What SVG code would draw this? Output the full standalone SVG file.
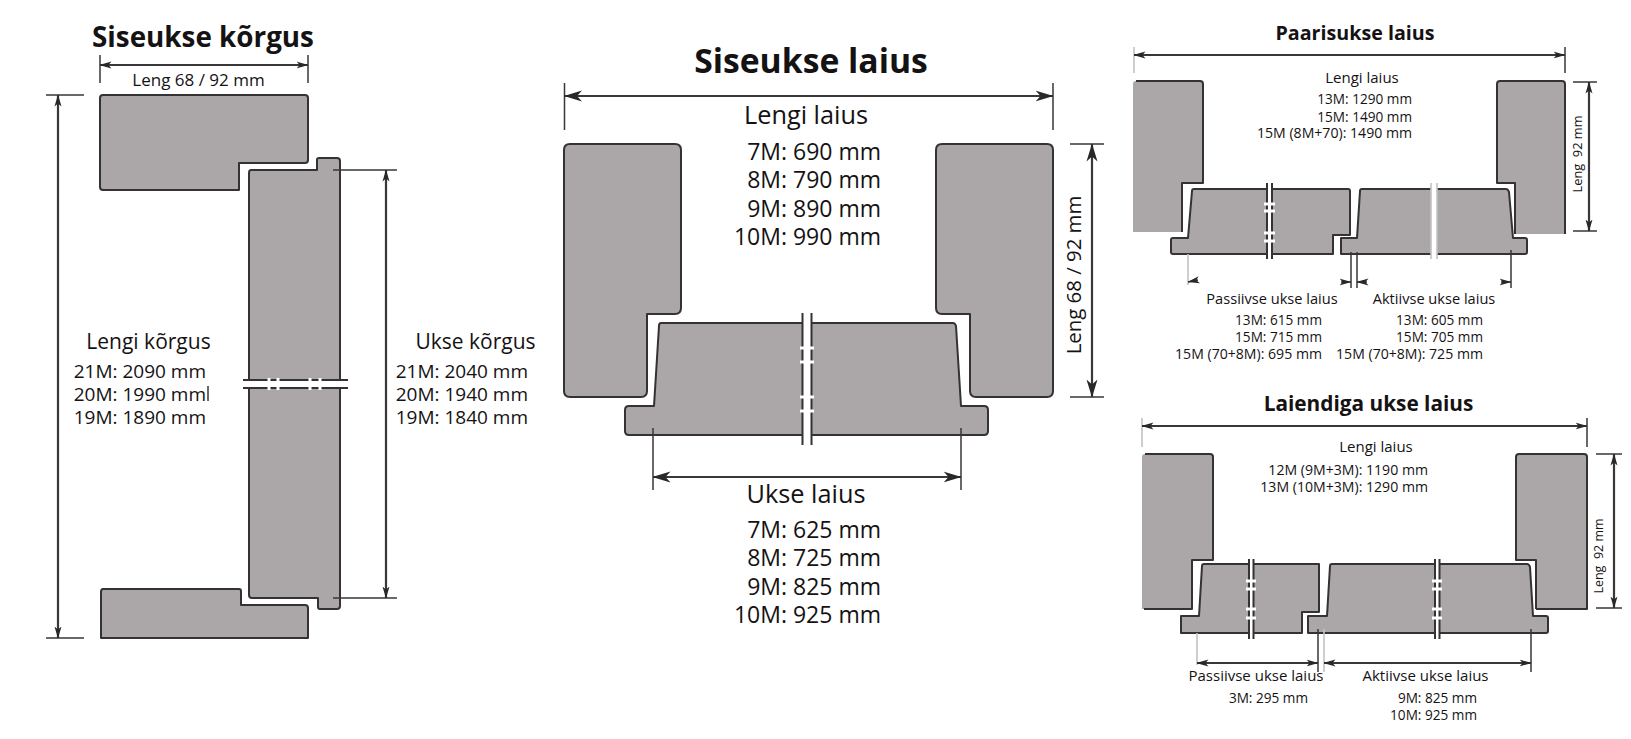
<svg xmlns="http://www.w3.org/2000/svg" width="1631" height="739" viewBox="0 0 1631 739">
<style>
text{font-family:"Open Sans","Noto Sans","Liberation Sans",sans-serif;fill:#151213}
.t{font-weight:700}
.p{fill:#aba6a8;stroke:#353233;stroke-width:2;stroke-linejoin:round}
.f{fill:#aba6a8;stroke:none}
.o{fill:none;stroke:#353233;stroke-width:2;stroke-linejoin:round}
.d{fill:none;stroke:#3a3738;stroke-width:2.2}
.e{fill:none;stroke:#3a3738;stroke-width:1.5}
.g{fill:none;stroke:#c4c2c3;stroke-width:1.6}
.bl{fill:none;stroke:#353233;stroke-width:2}
.w{fill:none;stroke:#fff;stroke-width:3}
.m{text-anchor:middle}
.r{text-anchor:end}
.a{font-size:19px}
.b{font-size:23px}
.c{font-size:13.6px}
.k{font-size:14.1px}
.l{font-size:14.6px}
.n{font-size:15px}
</style>
<defs>
<marker id="ab" viewBox="0 0 18 12" refX="17.5" refY="6" markerWidth="18" markerHeight="12" orient="auto-start-reverse" markerUnits="userSpaceOnUse"><path d="M0 0.5L18 6L0 11.5L5 6Z" fill="#2a2728"/></marker>
<marker id="as" viewBox="0 0 12 8" refX="11.5" refY="4" markerWidth="12" markerHeight="8" orient="auto-start-reverse" markerUnits="userSpaceOnUse"><path d="M0 0.5L12 4L0 7.5L3 4Z" fill="#2a2728"/></marker>
</defs>
<rect width="1631" height="739" fill="#fff"/>

<g id="korgus-top-jamb"><path class="p" d="M103 95H305Q308 95 308 98V160Q308 163 305 163H239V190H103Q100 190 100 187V98Q100 95 103 95Z"/></g>
<g id="korgus-door"><path class="p" d="M251 170H317V160Q317 158 319 158H337Q340 158 340 161V606Q340 609 337 609H320Q318 609 318 607V598H252Q249 598 249 595V173Q249 170 251 170Z"/>
<path class="w" style="stroke-width:8" d="M243 384H348"/><path class="bl" d="M243 380H348M243 388H348"/><path class="w" d="M269 378V390M278 378V390M310 378V390M320 378V390"/></g>
<g id="korgus-bottom-jamb"><path class="p" d="M103 589H239Q241 589 241 591V605H305Q308 605 308 608V638H101V592Q101 589 103 589Z"/></g>

<g id="laius-left-jamb"><path class="p" d="M570 144H675Q681 144 681 150V308Q681 314 675 314H647V391Q647 397 641 397H570Q564 397 564 391V150Q564 144 570 144Z"/></g>
<g id="laius-right-jamb"><path class="p" d="M942 144H1047Q1053 144 1053 150V391Q1053 397 1047 397H976Q970 397 970 391V314H942Q936 314 936 308V150Q936 144 942 144Z"/></g>
<g id="laius-door"><path class="p" d="M661 323H953Q955 323 956 326L961 406H984Q988 406 988 410V431Q988 435 984 435H629Q625 435 625 431V410Q625 406 629 406H654L659 326Q659 323 661 323Z"/>
<path class="w" style="stroke-width:8" d="M807 313V445"/><path class="bl" d="M802.500 313V445M811.500 313V445"/><path class="w" d="M800 348H814M800 362H814M800 397H814M800 411H814"/></g>

<g id="paaris-left-jamb"><path class="f" d="M1136 81H1203V183H1182V232H1133V84Q1133 81 1136 81Z"/><path class="o" d="M1136 81H1200Q1203 81 1203 84V183H1182V232"/></g>
<g id="paaris-right-jamb"><path class="f" d="M1500 81H1562Q1565 81 1565 84V234H1515V183H1497V84Q1497 81 1500 81Z"/><path class="o" d="M1515 234V183H1497V84Q1497 81 1500 81H1562Q1565 81 1565 84V234"/></g>
<g id="paaris-door-passive"><path class="p" d="M1194 189H1348Q1350 189 1350 191V235H1333V254H1173Q1171 254 1171 252V240Q1171 238 1173 238H1188L1192 191Q1192 189 1194 189Z"/>
<path class="w" style="stroke-width:5" d="M1269.500 183V259"/><path class="bl" d="M1267 183V259M1272 183V259"/><path class="w" d="M1264 204H1275M1264 211H1275M1264 233H1275M1264 241H1275"/></g>
<g id="paaris-door-active"><path class="p" d="M1362 189H1506Q1508 189 1509 192L1513 238H1525Q1527 238 1527 240V252Q1527 254 1525 254H1341V238H1357L1360 191Q1360 189 1362 189Z"/>
<path class="w" style="stroke-width:6" d="M1434 181V261"/><path class="g" d="M1431 183V259M1437 183V259"/></g>

<g id="laiendi-left-jamb"><path class="f" d="M1145 454H1213V560H1192V609H1142V457Q1142 454 1145 454Z"/><path class="o" d="M1145 454H1210Q1213 454 1213 457V560H1192V609H1144"/></g>
<g id="laiendi-right-jamb"><path class="f" d="M1519 454H1584Q1587 454 1587 457V609H1536V560H1516V457Q1516 454 1519 454Z"/><path class="o" d="M1536 609V560H1516V457Q1516 454 1519 454H1584Q1587 454 1587 457V609H1536"/></g>
<g id="laiendi-door-passive"><path class="p" d="M1204 564H1319V612H1302V633H1181V616H1199L1202 566Q1202 564 1204 564Z"/>
<path class="w" style="stroke-width:5" d="M1251 559V639"/><path class="bl" d="M1249 559V639M1253.500 559V639"/><path class="w" d="M1246 581H1256M1246 589H1256M1246 609H1256M1246 618H1256"/></g>
<g id="laiendi-door-active"><path class="p" d="M1332 564H1527Q1529 564 1530 567L1533 616H1546Q1548 616 1548 618V631Q1548 633 1546 633H1308V616H1327L1330 566Q1330 564 1332 564Z"/>
<path class="w" style="stroke-width:5" d="M1437 559V639"/><path class="bl" d="M1435 559V639M1439.500 559V639"/><path class="w" d="M1432 581H1442M1432 589H1442M1432 609H1442M1432 618H1442"/></g>

<g id="connectors">
<path class="e" d="M100 55V83M308 55V83M46 95H84M46 638H84M333 170H397M333 598H397"/>
<line class="d" x1="100" y1="65" x2="308" y2="65" marker-start="url(#as)" marker-end="url(#as)"/>
<line class="d" x1="58" y1="95" x2="58" y2="638" marker-start="url(#as)" marker-end="url(#as)"/>
<line class="d" x1="386" y1="170" x2="386" y2="598" marker-start="url(#as)" marker-end="url(#as)"/>

<path class="e" d="M564.500 83V130M1053 83V130M653 428V490M961 428V490M1070 144H1104M1070 397H1104"/>
<line class="d" x1="564.500" y1="96" x2="1053" y2="96" marker-start="url(#ab)" marker-end="url(#ab)"/>
<line class="d" x1="653" y1="477" x2="961" y2="477" marker-start="url(#ab)" marker-end="url(#ab)"/>
<line class="d" x1="1092" y1="144" x2="1092" y2="397" marker-start="url(#ab)" marker-end="url(#ab)"/>

<path class="g" d="M1134 47V73M1188 254V285"/>
<path class="e" d="M1565 47V73M1573 82H1597M1573 231H1597M1351 252V288M1357 252V288M1511 250V288"/>
<line class="d" x1="1134" y1="55" x2="1565" y2="55" marker-start="url(#as)" marker-end="url(#as)"/>
<line class="d" x1="1589" y1="82" x2="1589" y2="231" marker-start="url(#as)" marker-end="url(#as)"/>
<path class="e" d="M1198 280L1188 282" marker-end="url(#as)"/>
<path class="e" d="M1341 282H1351" marker-end="url(#as)"/>
<path class="e" d="M1367 282H1357" marker-end="url(#as)"/>
<path class="e" d="M1501 282H1511" marker-end="url(#as)"/>

<path class="g" d="M1142 418V447M1197 633V665M1324 629V672"/>
<path class="e" d="M1587 418V447M1596 454H1622M1596 608H1622M1318 629V672M1531 629V672"/>
<line class="d" x1="1142" y1="426" x2="1587" y2="426" marker-start="url(#as)" marker-end="url(#as)"/>
<line class="d" x1="1614" y1="454" x2="1614" y2="608" marker-start="url(#as)" marker-end="url(#as)"/>
<line class="d" x1="1197" y1="663" x2="1318" y2="663" marker-start="url(#as)" marker-end="url(#as)"/>
<line class="d" x1="1324" y1="663" x2="1531" y2="663" marker-start="url(#as)" marker-end="url(#as)"/>
<path class="e" d="M208 386V401"/>
</g>

<g id="labels">
<text class="t m" x="203" y="47" font-size="27.800">Siseukse kõrgus</text>
<text class="m" x="198.500" y="86" font-size="17">Leng 68 / 92 mm</text>
<text class="m" x="148.500" y="349" font-size="21">Lengi kõrgus</text>
<text class="a r" x="206" y="378">21M: 2090 mm</text>
<text class="a r" x="206" y="401">20M: 1990 mm</text>
<text class="a r" x="206" y="424">19M: 1890 mm</text>
<text class="m" x="475.500" y="349" font-size="21">Ukse kõrgus</text>
<text class="a r" x="528" y="378">21M: 2040 mm</text>
<text class="a r" x="528" y="401">20M: 1940 mm</text>
<text class="a r" x="528" y="424">19M: 1840 mm</text>

<text class="t m" x="811" y="73" font-size="33.700">Siseukse laius</text>
<text class="m" x="806" y="124" font-size="25.300">Lengi laius</text>
<text class="b r" x="881" y="160">7M: 690 mm</text>
<text class="b r" x="881" y="188">8M: 790 mm</text>
<text class="b r" x="881" y="217">9M: 890 mm</text>
<text class="b r" x="881" y="245">10M: 990 mm</text>
<text class="m" x="806" y="503" font-size="25.300">Ukse laius</text>
<text class="b r" x="881" y="538">7M: 625 mm</text>
<text class="b r" x="881" y="566">8M: 725 mm</text>
<text class="b r" x="881" y="595">9M: 825 mm</text>
<text class="b r" x="881" y="623">10M: 925 mm</text>
<text class="m" transform="translate(1081 275) rotate(-90)" font-size="20.400">Leng 68 / 92 mm</text>

<text class="t m" x="1355" y="40" font-size="19.700">Paarisukse laius</text>
<text class="m" x="1362" y="83" font-size="15">Lengi laius</text>
<text class="c r" x="1412" y="104">13M: 1290 mm</text>
<text class="c r" x="1412" y="122">15M: 1490 mm</text>
<text class="k r" x="1412" y="138">15M (8M+70): 1490 mm</text>
<text class="m" transform="translate(1582 154) rotate(-90)" font-size="12.800" xml:space="preserve">Leng  92 mm</text>
<text class="l m" x="1272" y="304">Passiivse ukse laius</text>
<text class="l m" x="1434" y="304">Aktiivse ukse laius</text>
<text class="c r" x="1322" y="325">13M: 615 mm</text>
<text class="c r" x="1322" y="342">15M: 715 mm</text>
<text class="k r" x="1322" y="359">15M (70+8M): 695 mm</text>
<text class="c r" x="1483" y="325">13M: 605 mm</text>
<text class="c r" x="1483" y="342">15M: 705 mm</text>
<text class="k r" x="1483" y="359">15M (70+8M): 725 mm</text>

<text class="t m" x="1368.500" y="411" font-size="20.800">Laiendiga ukse laius</text>
<text class="m" x="1376" y="452" font-size="15">Lengi laius</text>
<text class="k r" x="1428" y="475">12M (9M+3M): 1190 mm</text>
<text class="k r" x="1428" y="492">13M (10M+3M): 1290 mm</text>
<text class="m" transform="translate(1603 556) rotate(-90)" font-size="12.500" xml:space="preserve">Leng  92 mm</text>
<text class="n m" x="1256" y="681">Passiivse ukse laius</text>
<text class="n m" x="1425.500" y="681">Aktiivse ukse laius</text>
<text class="c r" x="1308" y="703">3M: 295 mm</text>
<text class="c r" x="1477" y="703">9M: 825 mm</text>
<text class="c r" x="1477" y="720">10M: 925 mm</text>
</g>
</svg>
